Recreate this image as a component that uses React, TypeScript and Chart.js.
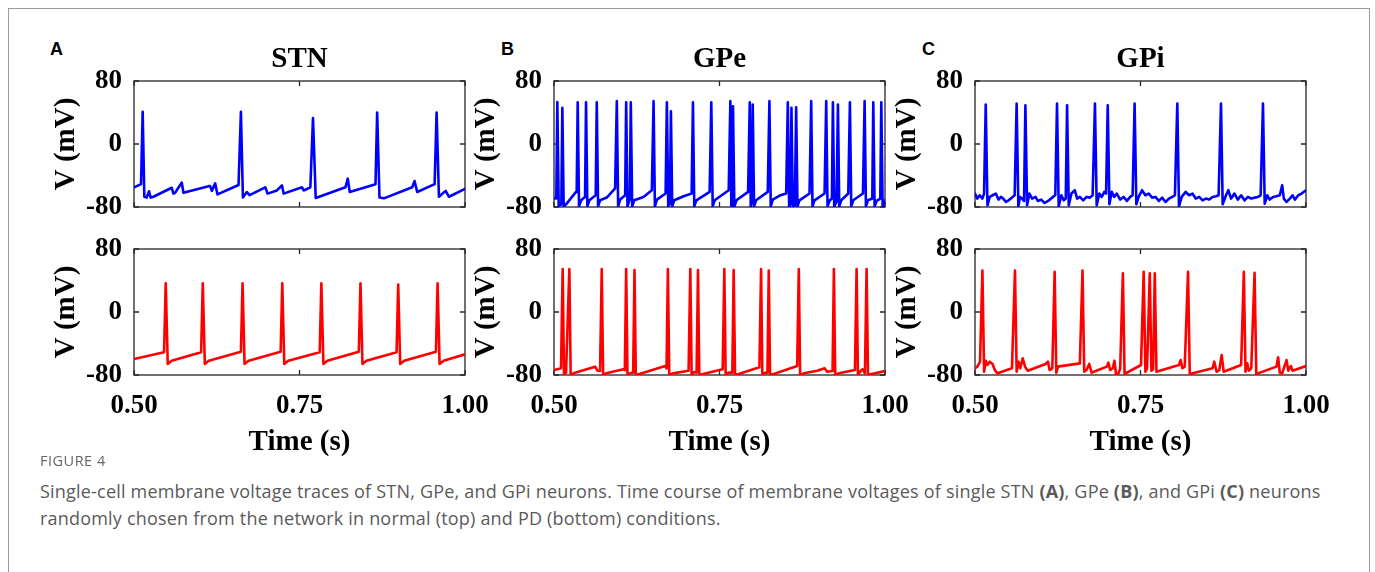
import React, { useEffect, useRef } from 'react';
import { Chart, registerables } from 'chart.js';
Chart.register(...registerables);

type Pt = [number, number];

const X_TICKS = [0.5, 0.75, 1.0];
const X_TICK_LABELS = ['0.50', '0.75', '1.00'];
const Y_TICKS = [-80, 0, 80];
const Y_TICK_LABELS = ['-80', '0', '80'];
const TITLES = ['STN', 'GPe', 'GPi'];
const LETTERS = ['A', 'B', 'C'];
const X_TITLE = 'Time (s)';
const Y_TITLE = 'V (mV)';

// STN normal (top) [time s, voltage mV]
const STN_NORMAL: Pt[] = [
  [0.5000,-55],[0.5106,-51],[0.5131,41],[0.5156,-67],[0.5192,-68],[0.5227,-60],[0.5252,-68],[0.5293,-67],
  [0.5570,-55.6],[0.5595,-63],[0.5621,-62],[0.5721,-49],[0.5747,-62],[0.6125,-53.5],[0.6150,-53.5],[0.6176,-59.5],
  [0.6226,-50],[0.6261,-64],[0.6579,-52],[0.6615,41],[0.6645,-68],[0.6705,-61],[0.6746,-65],[0.6983,-55],
  [0.7018,-63],[0.7159,-59],[0.7235,-52.5],[0.7260,-63],[0.7538,-55],[0.7563,-59],[0.7664,-55],[0.7704,33],
  [0.7745,-68.5],[0.8194,-55],[0.8229,-44],[0.8259,-61],[0.8648,-51],[0.8673,40],[0.8708,-68],[0.8774,-69],
  [0.9203,-55],[0.9238,-47],[0.9278,-61],[0.9541,-51],[0.9571,40],[0.9606,-67],[0.9707,-59.5],[0.9758,-67],
  [1.0000,-57],
];

// STN PD (bottom)
const STN_PD: Pt[] = [
  [0.5000,-59.7],[0.5454,-51],[0.5479,36.4],[0.5510,-66],[0.5570,-62],
  [0.6014,-51],[0.6039,36.4],[0.6070,-66],[0.6130,-62],
  [0.6615,-50.5],[0.6640,36.4],[0.6670,-66],[0.6731,-62],
  [0.7215,-50.5],[0.7240,36.4],[0.7270,-66],[0.7331,-62],
  [0.7805,-51],[0.7830,36.4],[0.7861,-66],[0.7921,-62],
  [0.8396,-50.5],[0.8421,36.4],[0.8451,-66],[0.8512,-62],
  [0.8966,-51],[0.8991,35],[0.9021,-66],[0.9082,-62],
  [0.9561,-50.5],[0.9586,36.4],[0.9616,-66],[0.9677,-62],
  [1.0000,-53.8],
];

// GPe normal (top)
const GPE_NORMAL: Pt[] = [
  [0.5000,-69.3],[0.5035,-69],[0.5050,53.3],[0.5071,-79.2],[0.5111,-76.6],[0.5126,45.9],[0.5146,-79.2],[0.5182,-76.6],
  [0.5333,-60.8],[0.5343,-58.7],[0.5358,53],[0.5378,-79.2],[0.5409,-71.5],[0.5469,-67.2],[0.5474,-67.2],[0.5484,53],
  [0.5504,-79.2],[0.5535,-71.5],[0.5630,-65],[0.5646,53],[0.5666,-79.2],[0.5696,-71.5],[0.5797,-68],[0.5923,-56.5],
  [0.5949,54.4],[0.5969,-79.2],[0.5999,-70.6],[0.6075,-65],[0.6090,53],[0.6110,-79.2],[0.6146,-69.3],[0.6160,53],
  [0.6181,-79.2],[0.6211,-71.5],[0.6352,-67.2],[0.6478,-58.7],[0.6504,54.4],[0.6524,-79.2],[0.6554,-70.6],[0.6686,-62.9],
  [0.6705,53],[0.6726,-79.2],[0.6751,-75.7],[0.6766,41.6],[0.6786,-79.2],[0.6816,-71.5],[0.6958,-66.4],[0.7079,-62.9],
  [0.7099,53],[0.7119,-79.2],[0.7150,-71.5],[0.7351,-60.8],[0.7376,53],[0.7397,-79.2],[0.7427,-71.5],[0.7639,-58.7],
  [0.7664,54.4],[0.7679,-80],[0.7689,-77.9],[0.7704,48],[0.7724,-80],[0.7755,-71.5],[0.7932,-60.8],[0.7957,53],
  [0.7972,-79.2],[0.7987,-73.6],[0.8002,50],[0.8022,-79.2],[0.8052,-71.5],[0.8229,-60.8],[0.8254,54.4],[0.8274,-79.2],
  [0.8305,-70.6],[0.8421,-65],[0.8507,-62.9],[0.8532,53],[0.8552,-80],[0.8572,-75.7],[0.8587,45.9],[0.8607,-80],
  [0.8638,-77.9],[0.8658,46.7],[0.8678,-79.2],[0.8708,-71.5],[0.8860,-62.9],[0.8885,54.4],[0.8905,-79.2],[0.8935,-71.5],
  [0.9087,-62.9],[0.9112,54.4],[0.9132,-79.2],[0.9167,-71.5],[0.9198,-69.3],[0.9213,53],[0.9233,-79.2],[0.9268,-73.6],
  [0.9289,50],[0.9309,-79.2],[0.9339,-71.5],[0.9445,-62.9],[0.9470,53],[0.9490,-79.2],[0.9520,-71.5],[0.9667,-62.9],
  [0.9692,54.4],[0.9712,-79.2],[0.9743,-71.5],[0.9808,-69.3],[0.9823,53],[0.9843,-79.2],[0.9873,-72.3],[0.9929,-69.3],
  [0.9944,53],[0.9964,-79.2],[1.0000,-71.5],
];

// GPe PD (bottom)
const GPE_PD: Pt[] = [
  [0.5000,-73.7],[0.5106,-71.5],[0.5131,54.6],[0.5151,-80],[0.5182,-77],[0.5232,54.6],[0.5252,-80],[0.5318,-77],
  [0.5621,-69.4],[0.5656,-74.5],[0.5696,-75],[0.5721,54.6],[0.5742,-80],[0.5787,-77.9],[0.6049,-72.8],[0.6070,-73.7],
  [0.6090,54.6],[0.6110,-79.6],[0.6176,-77],[0.6196,-77],[0.6216,53.3],[0.6236,-80],[0.6292,-78.7],[0.6680,-68.6],
  [0.6700,-71.5],[0.6720,54.6],[0.6741,-80],[0.6796,-77.9],[0.7033,-74.5],[0.7059,54.6],[0.7079,-79.6],[0.7119,-76.2],
  [0.7154,-77],[0.7175,53.3],[0.7195,-80],[0.7251,-78.7],[0.7548,-72.8],[0.7573,54.6],[0.7593,-80],[0.7639,-77],
  [0.7694,-77],[0.7714,53.3],[0.7735,-80],[0.7790,-78.7],[0.8103,-70.3],[0.8128,54.6],[0.8148,-80],[0.8194,-77],
  [0.8224,-77],[0.8244,52.5],[0.8264,-80],[0.8320,-78.7],[0.8673,-68.6],[0.8698,54.6],[0.8718,-80],[0.8774,-77.9],
  [0.8976,-74.5],[0.9087,-71.5],[0.9127,-75.8],[0.9208,-75],[0.9228,54.6],[0.9248,-80],[0.9303,-77.9],[0.9546,-73.7],
  [0.9571,54.6],[0.9591,-80],[0.9631,-75],[0.9662,-72.8],[0.9697,-77.9],[0.9722,54.6],[0.9743,-80],[0.9798,-78.7],
  [1.0000,-75],
];

// GPi normal (top)
const GPI_NORMAL: Pt[] = [
  [0.5000,-62.9],[0.5036,-69.3],[0.5071,-65.1],[0.5112,-69.3],[0.5137,-62.9],[0.5162,50.1],[0.5188,-77.9],[0.5223,-67.2],
  [0.5264,-65.1],[0.5315,-62.9],[0.5355,-70.6],[0.5391,-67.2],[0.5426,-69.3],[0.5467,-73.6],[0.5508,-71.5],[0.5558,-68.1],
  [0.5599,-65.1],[0.5629,51.4],[0.5655,-79.2],[0.5680,-67.2],[0.5711,-69.3],[0.5741,-72.3],[0.5761,49.3],[0.5787,-77.9],
  [0.5822,-62.9],[0.5863,-69.3],[0.5914,-67.2],[0.5949,-72.3],[0.6000,-70.6],[0.6051,-74.9],[0.6117,-71.5],[0.6178,-67.2],
  [0.6213,-65.1],[0.6239,51.4],[0.6264,-79.2],[0.6305,-65.1],[0.6340,-71.5],[0.6371,-69.3],[0.6391,49.3],[0.6416,-77.9],
  [0.6457,-62.9],[0.6508,-58.7],[0.6543,-69.3],[0.6584,-67.2],[0.6635,-71.5],[0.6685,-67.2],[0.6736,-68.1],[0.6777,-65.1],
  [0.6812,51.4],[0.6838,-77.9],[0.6878,-62.9],[0.6914,-67.2],[0.6954,-60.8],[0.6980,-62.9],[0.7005,49.3],[0.7030,-76.6],
  [0.7066,-60.8],[0.7102,-67.2],[0.7142,-62.9],[0.7193,-70.6],[0.7244,-67.2],[0.7294,-72.3],[0.7345,-67.2],[0.7381,-65.1],
  [0.7411,51.4],[0.7437,-76.6],[0.7472,-67.2],[0.7523,-58.7],[0.7574,-65.1],[0.7624,-62.9],[0.7675,-68.1],[0.7726,-67.2],
  [0.7777,-72.3],[0.7827,-68.1],[0.7878,-73.6],[0.7929,-69.3],[0.7980,-67.2],[0.8020,-65.1],[0.8056,51.4],[0.8081,-79.2],
  [0.8122,-67.2],[0.8183,-60.8],[0.8233,-65.1],[0.8284,-62.9],[0.8335,-69.3],[0.8386,-67.2],[0.8437,-71.5],[0.8487,-69.3],
  [0.8538,-70.6],[0.8589,-67.2],[0.8640,-66.4],[0.8680,-65.1],[0.8716,51.4],[0.8741,-76.6],[0.8792,-65.1],[0.8827,-58.7],
  [0.8868,-69.3],[0.8919,-62.9],[0.8970,-70.6],[0.9020,-65.1],[0.9071,-71.5],[0.9122,-67.2],[0.9173,-69.3],[0.9223,-68.1],
  [0.9274,-67.2],[0.9315,-65.1],[0.9350,51.4],[0.9376,-75.7],[0.9416,-65.1],[0.9452,-70.6],[0.9503,-67.2],[0.9553,-66.4],
  [0.9604,-65.1],[0.9640,-52.3],[0.9665,-69.3],[0.9706,-73.6],[0.9756,-69.3],[0.9797,-65.1],[0.9832,-70.6],[0.9883,-65.1],
  [0.9934,-62.9],[1.0000,-58.7],
];

// GPi PD (bottom)
const GPI_PD: Pt[] = [
  [0.5000,-71.5],[0.5036,-69.4],[0.5076,-63.1],[0.5112,52.5],[0.5137,-75.8],[0.5162,-61.8],[0.5188,-67.3],[0.5223,-63.1],
  [0.5264,-66],[0.5305,-74.5],[0.5340,-77.9],[0.5558,-71.5],[0.5604,52.5],[0.5629,-75.8],[0.5660,-63.1],[0.5685,-71.5],
  [0.5721,-58.8],[0.5756,-69.4],[0.5797,-74.5],[0.6066,-66],[0.6102,-63.1],[0.6127,-73.7],[0.6168,-71.5],[0.6203,51.2],
  [0.6228,-77],[0.6254,-69.4],[0.6584,-65.2],[0.6624,52.5],[0.6650,-75.8],[0.6685,-73.7],[0.6726,-66],[0.6761,-77],
  [0.6797,-75.8],[0.6990,-69.4],[0.7015,-64.3],[0.7041,-73.7],[0.7081,-71.5],[0.7107,-61.8],[0.7132,-80],[0.7168,-77.9],
  [0.7193,-71.5],[0.7234,49.1],[0.7259,-78.7],[0.7508,-67.3],[0.7548,51.2],[0.7574,-75.8],[0.7599,-71.5],[0.7640,49.1],
  [0.7665,-74.5],[0.7690,-72.8],[0.7716,49.1],[0.7741,-75.8],[0.8081,-67.3],[0.8107,-61],[0.8132,-71.5],[0.8168,-69.4],
  [0.8218,51.2],[0.8244,-78.7],[0.8589,-71.5],[0.8614,-63.1],[0.8650,-75.8],[0.8690,-73.7],[0.8726,-54.6],[0.8756,-75.8],
  [0.9020,-67.3],[0.9061,51.2],[0.9086,-75.8],[0.9112,-65.2],[0.9137,-74.5],[0.9173,-71.5],[0.9223,49.9],[0.9249,-78.7],
  [0.9553,-69.4],[0.9579,-57.6],[0.9604,-77],[0.9640,-77.9],[0.9706,-61],[0.9731,-74.5],[0.9772,-68.6],[0.9797,-74.5],
  [1.0000,-68.6],
];

const PANELS: { data: Pt[]; color: string; col: number; row: number }[] = [
  { data: STN_NORMAL, color: '#0000ff', col: 0, row: 0 },
  { data: GPE_NORMAL, color: '#0000ff', col: 1, row: 0 },
  { data: GPI_NORMAL, color: '#0000ff', col: 2, row: 0 },
  { data: STN_PD, color: '#ff0000', col: 0, row: 1 },
  { data: GPE_PD, color: '#ff0000', col: 1, row: 1 },
  { data: GPI_PD, color: '#ff0000', col: 2, row: 1 },
];

// layout (pixels)
const PLOT_LEFT = [134, 554, 975];
const PLOT_W = 330.5;
const ROW_TOP = [81, 249];
const PLOT_H = 126;
const Y_AXIS_W = 104;
const RIGHT_PAD = 32;
const TOP_CANVAS_Y = 20;
const TOP_ROW_BOTTOM_PAD = 24;
const BOT_PAD_TOP = 25;
const X_AXIS_H = 90;

const SERIF = "'Liberation Serif', 'Times New Roman', serif";

const framePlugin = {
  id: 'matlabFrame',
  beforeDatasetsDraw(chart: any) {
    const { ctx, chartArea, scales } = chart;
    const { left, right, top, bottom } = chartArea;
    ctx.save();
    ctx.strokeStyle = '#262626';
    ctx.lineWidth = 1.3;
    ctx.strokeRect(left, top, right - left, bottom - top);
    const tl = 5;
    ctx.beginPath();
    scales.x.ticks.forEach((t: any) => {
      const px = scales.x.getPixelForValue(t.value);
      ctx.moveTo(px, bottom); ctx.lineTo(px, bottom - tl);
      ctx.moveTo(px, top); ctx.lineTo(px, top + tl);
    });
    scales.y.ticks.forEach((t: any) => {
      const py = scales.y.getPixelForValue(t.value);
      ctx.moveTo(left, py); ctx.lineTo(left + tl, py);
      ctx.moveTo(right, py); ctx.lineTo(right - tl, py);
    });
    ctx.stroke();
    ctx.restore();
  },
};

const zeroPadding = (s: any) => {
  s.paddingLeft = 0;
  s.paddingRight = 0;
  s.paddingTop = 0;
  s.paddingBottom = 0;
};

function Panel({ data, color, col, row }: { data: Pt[]; color: string; col: number; row: number }) {
  const ref = useRef<HTMLCanvasElement>(null);
  const left = PLOT_LEFT[col] - Y_AXIS_W;
  const top = row === 0 ? TOP_CANVAS_Y : ROW_TOP[1] - BOT_PAD_TOP;
  const width = Math.round(Y_AXIS_W + PLOT_W + RIGHT_PAD);
  const height = row === 0
    ? ROW_TOP[0] - TOP_CANVAS_Y + PLOT_H + TOP_ROW_BOTTOM_PAD
    : BOT_PAD_TOP + PLOT_H + X_AXIS_H;

  useEffect(() => {
    if (!ref.current) return;
    const titleLH = 29 * 1.2;
    const titleBottomPad = 3.6;
    const titleTopPad = ROW_TOP[0] - TOP_CANVAS_Y - titleLH - titleBottomPad;
    const chart = new Chart(ref.current, {
      type: 'line',
      data: {
        datasets: [{
          data: data.map(([t, v]) => ({ x: t, y: v })),
          borderColor: color,
          borderWidth: 2.6,
          pointRadius: 0,
          tension: 0,
          fill: false,
          borderJoinStyle: 'round',
          borderCapStyle: 'round',
        }],
      },
      options: {
        animation: false,
        responsive: false,
        devicePixelRatio: 1,
        layout: {
          padding: {
            left: 0,
            right: RIGHT_PAD,
            top: row === 0 ? 0 : BOT_PAD_TOP,
            bottom: row === 0 ? TOP_ROW_BOTTOM_PAD : 0,
          },
        },
        plugins: {
          legend: { display: false },
          tooltip: { enabled: false },
          title: {
            display: row === 0,
            text: TITLES[col],
            fullSize: false,
            color: '#000',
            font: { family: SERIF, size: 29, weight: 'bold', lineHeight: 1.2 },
            padding: { top: titleTopPad, bottom: titleBottomPad },
          },
        },
        scales: {
          x: {
            type: 'linear',
            min: 0.5,
            max: 1.0,
            afterBuildTicks: (s: any) => { s.ticks = X_TICKS.map((v) => ({ value: v })); },
            afterFit: (s: any) => { s.height = row === 0 ? 0 : X_AXIS_H; zeroPadding(s); },
            grid: { display: false, drawTicks: false },
            border: { display: false },
            ticks: {
              display: row === 1,
              padding: 14.8,
              color: '#000',
              maxRotation: 0,
              autoSkip: false,
              font: { family: SERIF, size: 27, weight: 'bold', lineHeight: 1.2 },
              callback: (v: any) => X_TICK_LABELS[X_TICKS.indexOf(Number(v))] ?? '',
            },
            title: {
              display: row === 1,
              text: X_TITLE,
              color: '#000',
              font: { family: SERIF, size: 29, weight: 'bold', lineHeight: 1.2 },
              padding: { top: 0, bottom: 4.6 },
            },
          },
          y: {
            type: 'linear',
            min: -80,
            max: 80,
            afterBuildTicks: (s: any) => { s.ticks = Y_TICKS.map((v) => ({ value: v })); },
            afterFit: (s: any) => { s.width = Y_AXIS_W; zeroPadding(s); },
            grid: { display: false, drawTicks: false },
            border: { display: false },
            ticks: {
              padding: 12,
              color: '#000',
              autoSkip: false,
              font: { family: SERIF, size: 27, weight: 'bold', lineHeight: 1.2 },
              callback: (v: any) => Y_TICK_LABELS[Y_TICKS.indexOf(Number(v))] ?? '',
            },
            title: {
              display: true,
              text: Y_TITLE,
              color: '#000',
              font: { family: SERIF, size: 29, weight: 'bold', lineHeight: 1.2 },
              padding: { top: 19.6, bottom: 0 },
            },
          },
        },
      },
      plugins: [framePlugin],
    } as any);
    return () => chart.destroy();
  }, []);

  return (
    <canvas
      ref={ref}
      width={width}
      height={height}
      style={{ position: 'absolute', left, top, width, height }}
    />
  );
}

const LETTER_X = [50, 501, 922];

export default function App() {
  return (
    <div style={{ position: 'absolute', left: 0, top: 0, width: 1375, height: 572, background: '#fff', overflow: 'hidden' }}>
      <div style={{ position: 'absolute', left: 8, top: 8, width: 1360, height: 640, border: '1px solid #9a9a9a' }} />
      {LETTERS.map((l, i) => (
        <div key={l} style={{ position: 'absolute', left: LETTER_X[i], top: 40, fontFamily: "'Liberation Sans', Arial, sans-serif", fontWeight: 'bold', fontSize: 18, lineHeight: '18px', color: '#000' }}>{l}</div>
      ))}
      {PANELS.map((p, i) => (
        <Panel key={i} data={p.data} color={p.color} col={p.col} row={p.row} />
      ))}
      <div style={{ position: 'absolute', left: 40, top: 452, fontFamily: "'Open Sans', sans-serif", fontSize: 14.5, lineHeight: '18px', color: '#666', letterSpacing: 0.5 }}>FIGURE 4</div>
      <div style={{ position: 'absolute', left: 40, top: 478, fontFamily: "'Open Sans', sans-serif", fontSize: 18, lineHeight: '27px', color: '#5a5a5a', whiteSpace: 'nowrap', letterSpacing: 0.2 }}>
        Single-cell membrane voltage traces of STN, GPe, and GPi neurons. Time course of membrane voltages of single STN <b>(A)</b>, GPe <b>(B)</b>, and GPi <b>(C)</b> neurons
        <br />
        randomly chosen from the network in normal (top) and PD (bottom) conditions.
      </div>
    </div>
  );
}
